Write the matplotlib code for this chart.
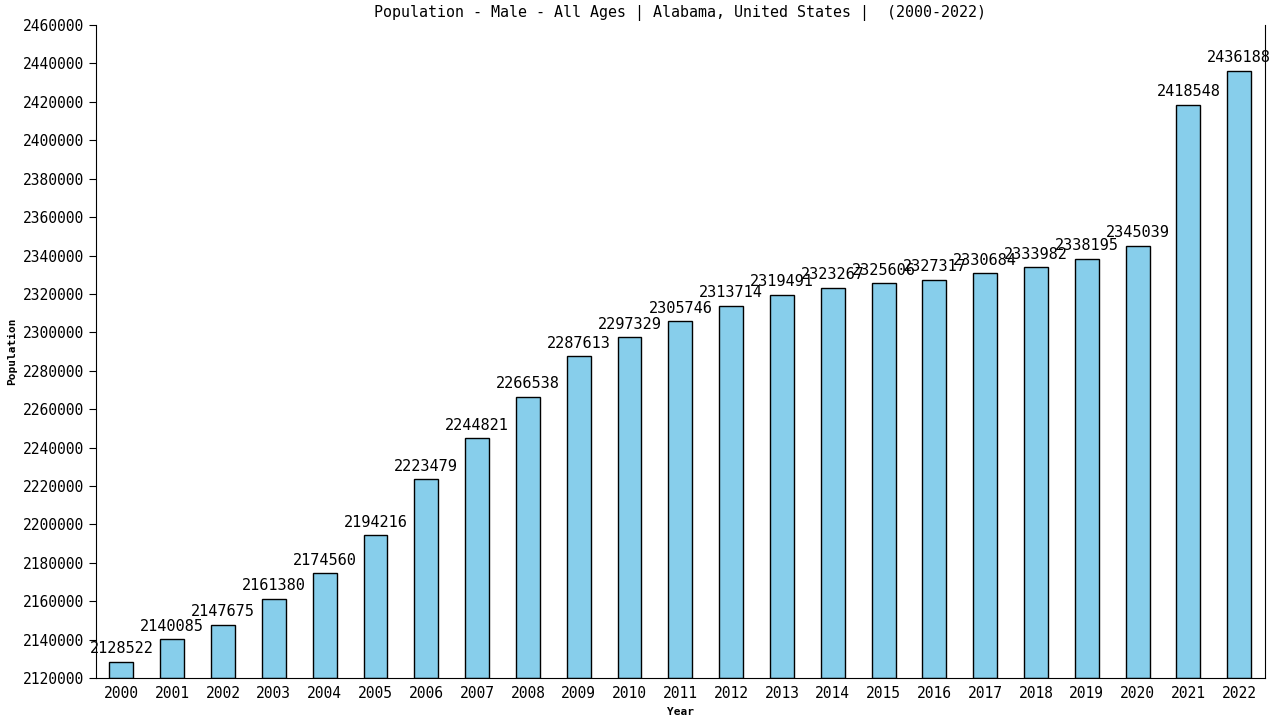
import matplotlib
matplotlib.use('Agg')
import matplotlib.pyplot as plt
import numpy as np

# data
years = [str(y) for y in range(2000, 2023)]
population = [2128522, 2140085, 2147675, 2161380, 2174560, 2194216, 2223479,
              2244821, 2266538, 2287613, 2297329, 2305746, 2313714, 2319491,
              2323267, 2325606, 2327317, 2330684, 2333982, 2338195, 2345039,
              2418548, 2436188]
y_min, y_max, y_step = 2120000, 2460000, 20000

plt.rcParams['font.family'] = 'DejaVu Sans Mono'

fig = plt.figure(figsize=(12.8, 7.2), dpi=100)
ax = fig.add_axes([0.075, 0.0583, 0.913, 0.9069])

x = np.arange(len(years))
ax.bar(x, [p - y_min for p in population], bottom=y_min, width=0.47,
       color='#87CEEB', edgecolor='black', linewidth=1)

for xi, p in zip(x, population):
    ax.annotate(str(p), (xi, p), xytext=(0, 4), textcoords='offset points',
                ha='center', va='bottom', fontsize=11)

ax.set_xlim(-0.5, len(years) - 0.5)
ax.set_ylim(y_min, y_max)
ax.set_yticks(np.arange(y_min, y_max + 1, y_step))
ax.set_yticklabels([str(v) for v in range(y_min, y_max + 1, y_step)])
ax.set_xticks(x)
ax.set_xticklabels(years)
ax.tick_params(axis='y', direction='out', length=5, labelsize=10.5)
ax.tick_params(axis='x', length=0, labelsize=10.5, pad=6)
ax.spines['top'].set_visible(False)

ax.set_title('Population - Male - All Ages | Alabama, United States |  (2000-2022)',
             fontsize=10.8, pad=5.5)
ax.set_xlabel('Year', fontsize=8, fontweight='bold', labelpad=4)
ax.set_ylabel('Population', fontsize=8, fontweight='bold', labelpad=4)

fig.savefig('out.png', dpi=100)
